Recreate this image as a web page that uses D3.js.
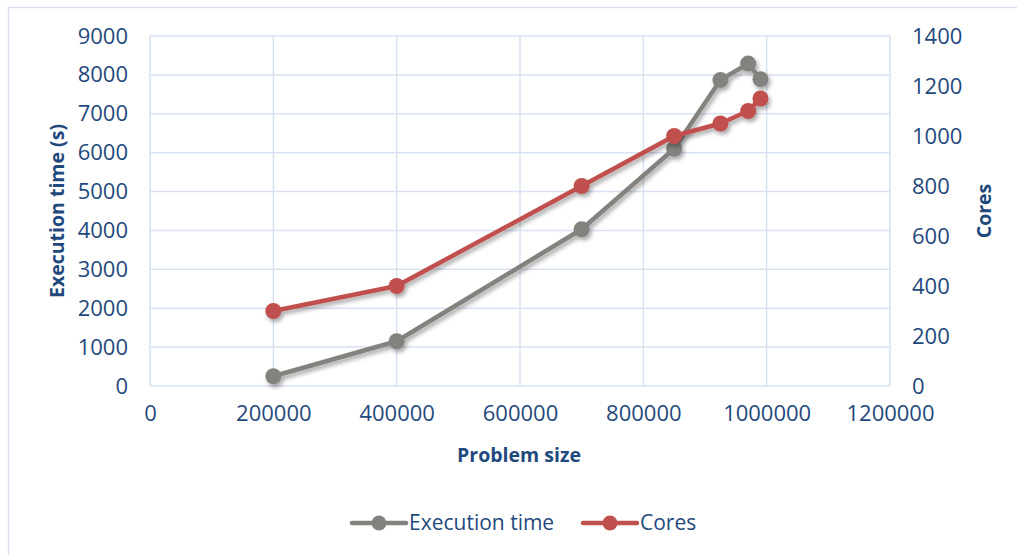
<!DOCTYPE html>
<html>
<head>
<meta charset="utf-8">
<script src="https://cdn.jsdelivr.net/npm/d3@7"></script>
<style>
  html, body { margin: 0; padding: 0; background: #fff; }
  svg { display: block; font-family: "Open Sans", "Noto Sans", sans-serif; }
</style>
</head>
<body>
<svg id="chart" width="1017" height="555"></svg>
<script>
// Problem sizes (x) with execution time (left axis) and core count (right axis)
const problemSize = [200000, 400000, 700000, 850000, 925000, 970000, 990000];
const executionTime = [250, 1150, 4030, 6100, 7870, 8290, 7890];
const cores = [300, 400, 800, 1000, 1050, 1100, 1150];

const xTicks = [0, 200000, 400000, 600000, 800000, 1000000, 1200000];
const yLeftTicks = [0, 1000, 2000, 3000, 4000, 5000, 6000, 7000, 8000, 9000];
const yRightTicks = [0, 200, 400, 600, 800, 1000, 1200, 1400];

const seriesNames = ["Execution time", "Cores"];

const textColor = "#1f497d";
const gridColor = "#d9e2f3";
const grayColor = "#84827e";
const redColor = "#c0504d";

const svg = d3.select("#chart");

// outer chart frame
svg.append("path")
  .attr("d", "M8.5,555 L8.5,7.5 L1017,7.5")
  .attr("fill", "none")
  .attr("stroke", "#d9e1ee")
  .attr("stroke-width", 1.5);

const defs = svg.append("defs");
const f = defs.append("filter").attr("id", "shadow")
  .attr("x", "-20%").attr("y", "-20%").attr("width", "140%").attr("height", "140%");
f.append("feDropShadow").attr("dx", 2).attr("dy", 3).attr("stdDeviation", 2)
  .attr("flood-color", "#000").attr("flood-opacity", 0.35);

const plot = { left: 150, right: 890, top: 36, bottom: 386 };

const x = d3.scaleLinear().domain([0, 1200000]).range([plot.left, plot.right]);
const yL = d3.scaleLinear().domain([0, 9000]).range([plot.bottom, plot.top]);
const yR = d3.scaleLinear().domain([0, 1400]).range([plot.bottom, plot.top]);

// gridlines
const grid = svg.append("g");
grid.selectAll("line.h").data(yLeftTicks).join("line")
  .attr("x1", plot.left).attr("x2", plot.right)
  .attr("y1", d => yL(d)).attr("y2", d => yL(d))
  .attr("stroke", gridColor).attr("stroke-width", 1.5);
grid.selectAll("line.v").data(xTicks).join("line")
  .attr("y1", plot.top).attr("y2", plot.bottom)
  .attr("x1", d => x(d)).attr("x2", d => x(d))
  .attr("stroke", gridColor).attr("stroke-width", 1.5);

// axes (labels only)
const fontSize = 22;
const xAxis = svg.append("g").attr("transform", `translate(0,${plot.bottom + 19})`)
  .call(d3.axisBottom(x).tickValues(xTicks).tickFormat(d3.format("d")).tickSize(0));
const yAxisL = svg.append("g").attr("transform", `translate(${plot.left - 22},0)`)
  .call(d3.axisLeft(yL).tickValues(yLeftTicks).tickFormat(d3.format("d")).tickSize(0));
const yAxisR = svg.append("g").attr("transform", `translate(${plot.right + 22},0)`)
  .call(d3.axisRight(yR).tickValues(yRightTicks).tickFormat(d3.format("d")).tickSize(0));
[xAxis, yAxisL, yAxisR].forEach(a => {
  a.select(".domain").remove();
  a.selectAll("text")
    .attr("fill", textColor)
    .style("font-size", fontSize + "px")
    .style("font-family", "'Open Sans', sans-serif");
});
yAxisL.selectAll("text").attr("x", 0);
yAxisR.selectAll("text").attr("x", 0);
xAxis.selectAll("text").attr("y", 0).attr("dy", "0.71em");

// axis titles
const titleSize = "19.5px";
svg.append("text")
  .attr("transform", `translate(64,${(plot.top + plot.bottom) / 2}) rotate(-90)`)
  .attr("text-anchor", "middle")
  .attr("fill", textColor).style("font-weight", "bold").style("font-size", titleSize)
  .text("Execution time (s)");
svg.append("text")
  .attr("transform", `translate(991,${(plot.top + plot.bottom) / 2}) rotate(-90)`)
  .attr("text-anchor", "middle")
  .attr("fill", textColor).style("font-weight", "bold").style("font-size", titleSize)
  .text("Cores");
svg.append("text")
  .attr("x", (plot.left + plot.right) / 2 - 1).attr("y", 462)
  .attr("text-anchor", "middle")
  .attr("fill", textColor).style("font-weight", "bold").style("font-size", titleSize)
  .text("Problem size");

// series
const series = [
  { name: seriesNames[0], values: executionTime, y: yL, color: grayColor },
  { name: seriesNames[1], values: cores, y: yR, color: redColor }
];

series.forEach(s => {
  const pts = problemSize.map((p, i) => [x(p), s.y(s.values[i])]);
  const g = svg.append("g").attr("filter", "url(#shadow)");
  g.append("path")
    .attr("d", d3.line()(pts))
    .attr("fill", "none")
    .attr("stroke", s.color)
    .attr("stroke-width", 4.5)
    .attr("stroke-linejoin", "round");
  g.selectAll("circle").data(pts).join("circle")
    .attr("cx", d => d[0]).attr("cy", d => d[1])
    .attr("r", 8)
    .attr("fill", s.color);
});

// legend
const legendItems = [
  { name: seriesNames[0], color: grayColor, x0: 352 },
  { name: seriesNames[1], color: redColor, x0: 583 }
];
const ly = 523;
legendItems.forEach(it => {
  const g = svg.append("g");
  g.append("line").attr("x1", it.x0).attr("x2", it.x0 + 54)
    .attr("y1", ly).attr("y2", ly)
    .attr("stroke", it.color).attr("stroke-width", 4.5).attr("stroke-linecap", "round");
  g.append("circle").attr("cx", it.x0 + 27).attr("cy", ly).attr("r", 7.5).attr("fill", it.color);
  g.append("text").attr("x", it.x0 + 57).attr("y", ly).attr("dy", "0.35em")
    .attr("fill", textColor).style("font-size", "21px")
    .text(it.name);
});
</script>
</body>
</html>
